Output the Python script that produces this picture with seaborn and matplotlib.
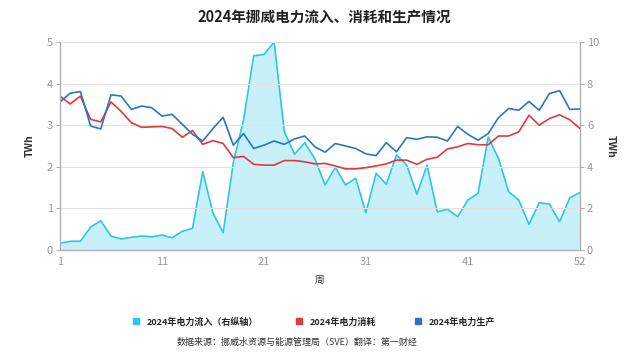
import matplotlib
matplotlib.use('Agg')
import matplotlib.pyplot as plt
import seaborn as sns
from matplotlib.lines import Line2D

# weekly data, 2024 (TWh)
weeks = list(range(1, 53))
inflow = [0.32, 0.42, 0.42, 1.10, 1.40, 0.67, 0.53, 0.61, 0.67, 0.63,
          0.72, 0.59, 0.90, 1.04, 3.77, 1.78, 0.83, 4.20, 6.25, 9.34,
          9.40, 10.0, 5.69, 4.60, 5.16, 4.38, 3.13, 3.97, 3.13, 3.45,
          1.79, 3.69, 3.16, 4.57, 4.09, 2.68, 4.08, 1.83, 1.96, 1.60,
          2.40, 2.72, 5.42, 4.41, 2.80, 2.40, 1.23, 2.27, 2.21, 1.36,
          2.51, 2.76]
consumption = [3.70, 3.51, 3.70, 3.14, 3.08, 3.56, 3.33, 3.06, 2.95, 2.96,
               2.97, 2.92, 2.71, 2.87, 2.54, 2.63, 2.56, 2.22, 2.25, 2.06,
               2.04, 2.04, 2.15, 2.15, 2.12, 2.07, 2.08, 2.02, 1.95, 1.95,
               1.98, 2.02, 2.07, 2.16, 2.16, 2.06, 2.18, 2.23, 2.43, 2.48,
               2.56, 2.53, 2.53, 2.74, 2.74, 2.84, 3.24, 3.00, 3.16, 3.25,
               3.13, 2.92]
production = [3.56, 3.77, 3.81, 2.98, 2.91, 3.73, 3.70, 3.38, 3.46, 3.42,
              3.22, 3.26, 3.02, 2.78, 2.62, 2.92, 3.19, 2.52, 2.80, 2.44,
              2.52, 2.62, 2.54, 2.67, 2.74, 2.48, 2.35, 2.56, 2.50, 2.44,
              2.31, 2.27, 2.58, 2.36, 2.70, 2.66, 2.72, 2.71, 2.62, 2.97,
              2.78, 2.64, 2.80, 3.18, 3.40, 3.36, 3.57, 3.36, 3.76, 3.83,
              3.38, 3.39]

series_names = ['2024年电力流入（右纵轴）', '2024年电力消耗', '2024年电力生产']
tick_weeks = [1, 11, 21, 31, 41, 51, 52]
tick_labels = ['1', '11', '21', '31', '41', '', '52']

cyan = '#2cc6e8'
red = '#e0393b'
blue = '#2a76c6'

sns.set_style('white')
plt.rcParams['font.family'] = ['Noto Sans CJK SC', 'DejaVu Sans']

fig = plt.figure(figsize=(6.4, 3.6), dpi=100)
ax = fig.add_axes([60 / 640, 110 / 360, 520 / 640, 208 / 360])
ax2 = ax.twinx()

# inflow on the right axis, drawn behind the other lines
ax2.fill_between(weeks, inflow, 0, color=cyan, alpha=0.26, lw=0)
sns.lineplot(x=weeks, y=inflow, ax=ax2, color=cyan, lw=1.2)
sns.lineplot(x=weeks, y=consumption, ax=ax, color=red, lw=1.2)
sns.lineplot(x=weeks, y=production, ax=ax, color=blue, lw=1.2)
ax.set_zorder(ax2.get_zorder() + 1)
ax.patch.set_visible(False)

ax.set_xlim(1, 52)
ax.set_ylim(0, 5)
ax2.set_ylim(0, 10)
ax.set_xticks(tick_weeks)
ax.set_xticklabels(tick_labels)
ax.set_yticks(range(0, 6))
ax2.set_yticks(range(0, 11, 2))

ax.yaxis.grid(True, color='#e2e2e2', lw=0.8)
ax.xaxis.grid(False)
ax2.grid(False)

for a in (ax, ax2):
    a.spines['top'].set_visible(False)
    for s in ('left', 'right', 'bottom'):
        a.spines[s].set_color('#aaaaaa')
        a.spines[s].set_linewidth(0.8)
    a.tick_params(direction='out', length=3, width=0.7, color='#aaaaaa',
                  labelcolor='#999999', labelsize=8, pad=2)

ax.set_xlabel('周', fontsize=7, color='#333333', labelpad=6)
ax.set_ylabel('TWh', fontsize=7.5, fontweight='bold', color='#333333', labelpad=9)
ax2.set_ylabel('TWh', fontsize=7.5, fontweight='bold', color='#333333',
               rotation=270, labelpad=12)

fig.text(0.506, 1 - 18 / 360, '2024年挪威电力流入、消耗和生产情况',
         ha='center', va='center', fontsize=10.5, fontweight='bold', color='#222222')

handles = [Line2D([], [], ls='none', marker='s', ms=5, color=c) for c in (cyan, red, blue)]
fig.legend(handles, series_names, loc='center', bbox_to_anchor=(0.49, 1 - 322 / 360),
           ncol=3, frameon=False, handlelength=0.8, handletextpad=0.8,
           columnspacing=4.2, prop={'size': 6.5, 'weight': 'bold'})

fig.text(0.465, 1 - 342 / 360, '数据来源：挪威水资源与能源管理局（SVE）翻译：第一财经',
         ha='center', va='center', fontsize=6.5, color='#333333')

fig.savefig('out.png', dpi=100)
